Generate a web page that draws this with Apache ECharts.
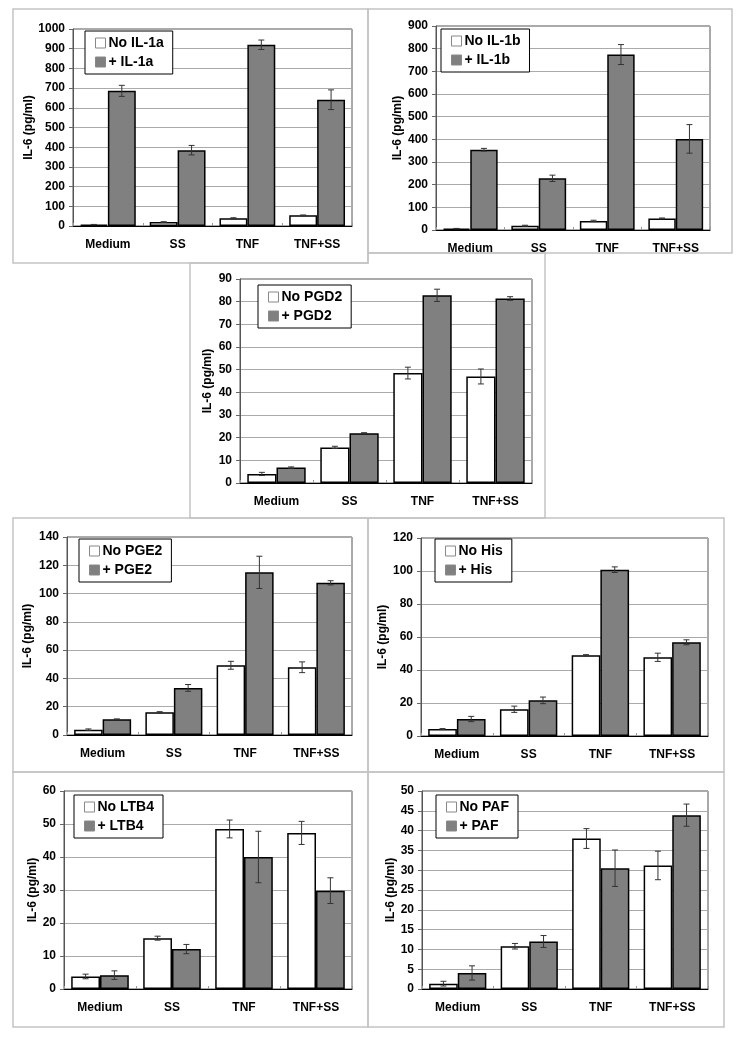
<!DOCTYPE html>
<html>
<head>
<meta charset="utf-8">
<script src="https://cdn.jsdelivr.net/npm/echarts@6/dist/echarts.min.js"></script>
<style>
html,body{margin:0;padding:0;background:#fff;}
#chart{width:737px;height:1040px;}
</style>
</head>
<body>
<div id="chart"></div>
<script>
// ---------- data ----------
const categories = ['Medium', 'SS', 'TNF', 'TNF+SS'];
const yAxisName = 'IL-6 (pg/ml)';

const il1aNames = ['No IL-1a', '+ IL-1a'];
const il1aNo = [7, 20, 39, 54];
const il1aNoErr = [1, 2, 3, 2];
const il1aPlus = [686, 385, 920, 641];
const il1aPlusErr = [28, 24, 24, 50];

const il1bNames = ['No IL-1b', '+ IL-1b'];
const il1bNo = [6, 19, 40, 51];
const il1bNoErr = [1, 2, 3, 2];
const il1bPlus = [354, 228, 774, 402];
const il1bPlusErr = [6, 14, 44, 63];

const pgd2Names = ['No PGD2', '+ PGD2'];
const pgd2No = [4.0, 15.7, 48.5, 47.0];
const pgd2NoErr = [0.7, 0.5, 2.6, 3.3];
const pgd2Plus = [6.8, 22.0, 82.8, 81.4];
const pgd2PlusErr = [0.3, 0.2, 2.7, 0.8];

const pge2Names = ['No PGE2', '+ PGE2'];
const pge2No = [3.8, 16.0, 49.3, 47.9];
const pge2NoErr = [0.5, 0.5, 2.8, 3.8];
const pge2Plus = [11.1, 33.3, 115.0, 107.6];
const pge2PlusErr = [0.3, 2.4, 11.4, 1.5];

const hisNames = ['No His', '+ His'];
const hisNo = [4.2, 16.2, 48.9, 47.7];
const hisNoErr = [0.3, 1.9, 0.4, 2.5];
const hisPlus = [10.3, 21.6, 100.8, 56.8];
const hisPlusErr = [1.6, 2.0, 1.7, 1.5];

const ltb4Names = ['No LTB4', '+ LTB4'];
const ltb4No = [3.8, 15.4, 48.5, 47.3];
const ltb4NoErr = [0.7, 0.6, 2.7, 3.5];
const ltb4Plus = [4.2, 12.1, 40.0, 29.8];
const ltb4PlusErr = [1.3, 1.4, 7.8, 3.9];

const pafNames = ['No PAF', '+ PAF'];
const pafNo = [1.35, 10.8, 38.0, 31.2];
const pafNoErr = [0.6, 0.7, 2.5, 3.6];
const pafPlus = [4.05, 12.0, 30.5, 43.9];
const pafPlusErr = [1.8, 1.5, 4.6, 2.8];

const yMax = [1000, 900, 90, 140, 120, 60, 50];
const yStep = [100, 100, 10, 20, 20, 10, 5];

// ---------- layout ----------
const panels = [
  {names: il1aNames, no: il1aNo, noErr: il1aNoErr, plus: il1aPlus, plusErr: il1aPlusErr,
   grid: [73, 29, 279, 197], legend: [85, 31], nameGap: 38},
  {names: il1bNames, no: il1bNo, noErr: il1bNoErr, plus: il1bPlus, plusErr: il1bPlusErr,
   grid: [436, 26, 274, 204], legend: [441, 29], nameGap: 32},
  {names: pgd2Names, no: pgd2No, noErr: pgd2NoErr, plus: pgd2Plus, plusErr: pgd2PlusErr,
   grid: [240, 279, 292, 204], legend: [258, 285], nameGap: 26},
  {names: pge2Names, no: pge2No, noErr: pge2NoErr, plus: pge2Plus, plusErr: pge2PlusErr,
   grid: [67, 537, 285, 198], legend: [79, 539], nameGap: 33},
  {names: hisNames, no: hisNo, noErr: hisNoErr, plus: hisPlus, plusErr: hisPlusErr,
   grid: [421, 538, 287, 198], legend: [435, 539], nameGap: 32},
  {names: ltb4Names, no: ltb4No, noErr: ltb4NoErr, plus: ltb4Plus, plusErr: ltb4PlusErr,
   grid: [64, 791, 288, 198], legend: [74, 795], nameGap: 25},
  {names: pafNames, no: pafNo, noErr: pafNoErr, plus: pafPlus, plusErr: pafPlusErr,
   grid: [422, 791, 286, 198], legend: [436, 795], nameGap: 25}
];

const FONT = 'Liberation Sans, Arial, Helvetica, sans-serif';
const GRAY = '#808080';

const grids = [], xAxes = [], yAxes = [], series = [], legends = [];

function errSeries(i, values, errs, side) {
  return {
    type: 'custom',
    xAxisIndex: i, yAxisIndex: i,
    z: 5,
    silent: true,
    encode: {x: 0, y: 1},
    data: values.map((v, k) => [k, v, errs[k]]),
    renderItem: function (params, api) {
      const k = api.value(0), v = api.value(1), e = api.value(2);
      const band = api.size([1, 0])[0];
      const off = side * band * 0.2;
      const top = api.coord([k, v + e]);
      const bot = api.coord([k, Math.max(0, v - e)]);
      const x = top[0] + off;
      const cap = 3;
      const style = {stroke: '#333', lineWidth: 1};
      return {
        type: 'group',
        children: [
          {type: 'line', shape: {x1: x, y1: top[1], x2: x, y2: bot[1]}, style: style},
          {type: 'line', shape: {x1: x - cap, y1: top[1], x2: x + cap, y2: top[1]}, style: style},
          {type: 'line', shape: {x1: x - cap, y1: bot[1], x2: x + cap, y2: bot[1]}, style: style}
        ]
      };
    }
  };
}

panels.forEach((p, i) => {
  grids.push({
    left: p.grid[0], top: p.grid[1], width: p.grid[2], height: p.grid[3],
    show: true, borderColor: '#555', borderWidth: 1, backgroundColor: '#fff'
  });
  xAxes.push({
    type: 'category', gridIndex: i, data: categories,
    axisLine: {show: true, lineStyle: {color: '#000', width: 1}},
    axisTick: {show: true, inside: true, length: 3, lineStyle: {color: '#999'}},
    axisLabel: {color: '#000', fontFamily: FONT, fontWeight: 'bold', fontSize: 12, margin: 13},
    splitLine: {show: false}
  });
  yAxes.push({
    type: 'value', gridIndex: i, min: 0, max: yMax[i], interval: yStep[i],
    name: yAxisName, nameLocation: 'middle', nameRotate: 90, nameGap: p.nameGap,
    nameTextStyle: {color: '#000', fontFamily: FONT, fontWeight: 'bold', fontSize: 12},
    axisLine: {show: true, lineStyle: {color: '#555'}},
    axisTick: {show: true, inside: false, length: 4, lineStyle: {color: '#666'}},
    axisLabel: {color: '#000', fontFamily: FONT, fontWeight: 'bold', fontSize: 12, margin: 8,
                formatter: function (v) { return String(v); }},
    splitLine: {show: true, lineStyle: {color: '#aaa', width: 1}}
  });
  series.push({
    type: 'bar', name: p.names[0], xAxisIndex: i, yAxisIndex: i,
    data: p.no, barWidth: '40%', barGap: '0%',
    itemStyle: {color: '#fff', borderColor: '#000', borderWidth: 1.5},
    silent: true
  });
  series.push({
    type: 'bar', name: p.names[1], xAxisIndex: i, yAxisIndex: i,
    data: p.plus, barWidth: '40%', barGap: '0%',
    itemStyle: {color: GRAY, borderColor: '#000', borderWidth: 1.5},
    silent: true
  });
  series.push(errSeries(i, p.no, p.noErr, -1));
  series.push(errSeries(i, p.plus, p.plusErr, 1));
  legends.push({
    data: p.names, left: p.legend[0], top: p.legend[1], orient: 'vertical',
    backgroundColor: '#fff', borderColor: '#000', borderWidth: 1,
    padding: [4, 9, 4, 10], itemGap: 3, itemWidth: 10, itemHeight: 10,
    icon: 'rect', selectedMode: false,
    itemStyle: {borderColor: '#888', borderWidth: 1},
    textStyle: {color: '#000', fontFamily: FONT, fontWeight: 'bold', fontSize: 14, lineHeight: 16, padding: [0, 0, 0, -2]}
  });
});

const BORDER = {stroke: '#c4c4c4', lineWidth: 1.5, fill: 'none'};
const graphics = [
  {type: 'rect', shape: {x: 13, y: 9, width: 355, height: 254}, style: BORDER, z: -10},
  {type: 'rect', shape: {x: 368, y: 9, width: 364, height: 244}, style: BORDER, z: -10},
  {type: 'polygon', shape: {points: [[190, 263], [368, 263], [368, 253], [545, 253], [545, 518], [190, 518]]}, style: BORDER, z: -10},
  {type: 'rect', shape: {x: 13, y: 518, width: 355, height: 254}, style: BORDER, z: -10},
  {type: 'rect', shape: {x: 368, y: 518, width: 356, height: 254}, style: BORDER, z: -10},
  {type: 'rect', shape: {x: 13, y: 772, width: 355, height: 255}, style: BORDER, z: -10},
  {type: 'rect', shape: {x: 368, y: 772, width: 356, height: 255}, style: BORDER, z: -10}
];

const chart = echarts.init(document.getElementById('chart'), null, {renderer: 'canvas'});
chart.setOption({
  animation: false,
  backgroundColor: '#fff',
  graphic: graphics,
  grid: grids,
  xAxis: xAxes,
  yAxis: yAxes,
  legend: legends,
  series: series
});
</script>
</body>
</html>
